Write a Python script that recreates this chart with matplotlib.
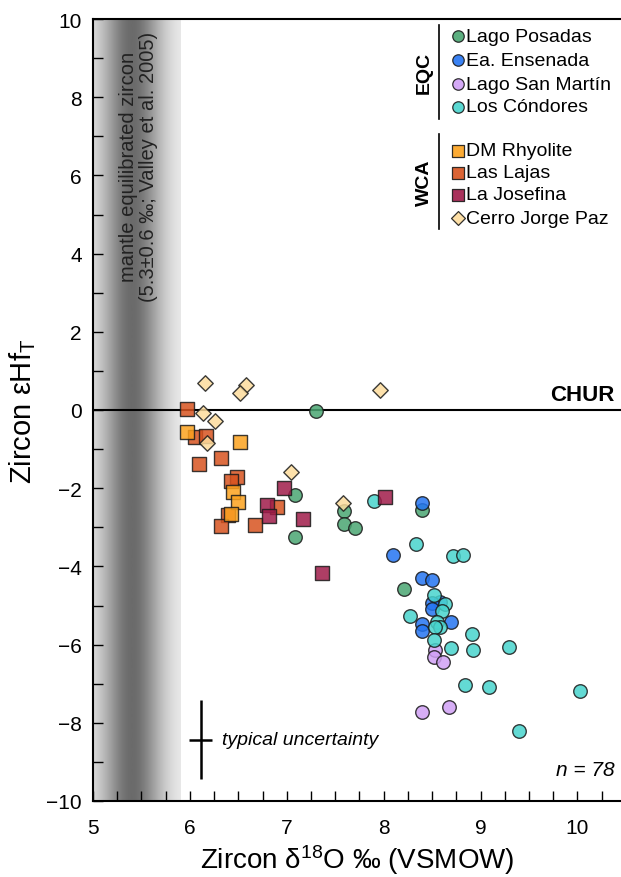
import numpy as np
import matplotlib
matplotlib.use("Agg")
import matplotlib.pyplot as plt
from matplotlib.ticker import MultipleLocator

plt.rcParams['font.family'] = ['Liberation Sans', 'DejaVu Sans']
plt.rcParams['mathtext.fontset'] = 'custom'
plt.rcParams['mathtext.rm'] = 'Liberation Sans'
plt.rcParams['mathtext.it'] = 'Liberation Sans:italic'

# --- zircon d18O (x) and eHf_T (y) by unit ---
posadas_x = [7.30, 7.09, 7.09, 7.59, 7.59, 7.70, 8.40, 8.21]
posadas_y = [-0.03, -2.18, -3.25, -2.58, -2.92, -3.01, -2.57, -4.57]

ensenada_x = [8.40, 8.10, 8.40, 8.50, 8.58, 8.50, 8.50, 8.70, 8.40, 8.40]
ensenada_y = [-2.39, -3.70, -4.29, -4.34, -4.91, -4.94, -5.08, -5.41, -5.47, -5.64]

sanmartin_x = [8.53, 8.52, 8.61, 8.40, 8.67]
sanmartin_y = [-6.14, -6.32, -6.45, -7.73, -7.59]

condores_x = [7.90, 8.33, 8.72, 8.82, 8.27, 8.52, 8.63, 8.60, 8.55, 8.58,
              8.53, 8.52, 8.70, 8.91, 8.92, 9.29, 8.84, 9.09, 9.40, 10.03]
condores_y = [-2.33, -3.43, -3.74, -3.71, -5.26, -4.73, -4.96, -5.13, -5.43, -5.56,
              -5.56, -5.88, -6.08, -5.73, -6.15, -6.07, -7.04, -7.09, -8.21, -7.18]

lajas_x = [5.97, 6.05, 6.17, 6.09, 6.32, 6.49, 6.42, 6.90, 6.39, 6.32, 6.67]
lajas_y = [0.02, -0.70, -0.66, -1.37, -1.22, -1.72, -1.82, -2.48, -2.69, -2.97, -2.93]

dm_x = [5.97, 6.52, 6.44, 6.50, 6.42]
dm_y = [-0.56, -0.81, -2.09, -2.35, -2.67]

josefina_x = [6.97, 6.80, 6.82, 7.17, 8.01, 7.36]
josefina_y = [-1.99, -2.42, -2.71, -2.80, -2.22, -4.16]

jorgepaz_x = [6.16, 6.58, 6.52, 7.96, 6.14, 6.26, 6.18, 7.04, 7.58]
jorgepaz_y = [0.68, 0.64, 0.44, 0.50, -0.07, -0.28, -0.85, -1.58, -2.39]

# typical analytical uncertainty (centre, half-widths)
unc_x, unc_y = [6.11], [-8.43]
unc_xerr, unc_yerr = [0.12], [1.02]

# mantle zircon reference band
mantle_lo, mantle_hi, mantle_peak = 5.0, 5.9, 5.4

colors = {
    'posadas': '#4aa672', 'ensenada': '#2475f2', 'sanmartin': '#d0a0f5',
    'condores': '#48d4cd', 'lajas': '#d8531f', 'dm': '#fca21e',
    'josefina': '#a01c4a', 'jorgepaz': '#fddc9c',
}

fig = plt.figure(figsize=(6.21, 8.78), dpi=100)
W, H = 621, 878
ax = fig.add_axes([93 / W, (H - 802) / H, 528 / W, 782 / H])

# grey gradient band
gx = np.linspace(mantle_lo, mantle_hi, 400)
shade = 0.95 - 0.53 * np.exp(-(gx - mantle_peak) ** 2 / (2 * 0.22 ** 2))
ax.imshow(shade[np.newaxis, :], cmap='gray', vmin=0, vmax=1, aspect='auto',
          extent=[mantle_lo, mantle_hi, -10, 10], zorder=0, interpolation='bilinear')
ax.text(5.47, 6.25, "mantle equilibrated zircon\n(5.3±0.6 ‰; Valley et al. 2005)",
        rotation=90, ha='center', va='center', fontsize=14.5, color='#222222',
        multialignment='center', linespacing=1.1, zorder=1)

# CHUR reference line
ax.axhline(0, color='black', lw=1.5, zorder=1)
ax.text(10.38, 0.12, "CHUR", ha='right', va='bottom', fontsize=16, fontweight='bold')

edge = dict(edgecolor='#1a1a1a', linewidths=1.0, alpha=0.85, zorder=3)
s_circ, s_sq, s_dia = 95, 90, 62
ax.scatter(posadas_x, posadas_y, s=s_circ, marker='o', c=colors['posadas'], **edge)
ax.scatter(ensenada_x, ensenada_y, s=s_circ, marker='o', c=colors['ensenada'], **edge)
ax.scatter(sanmartin_x, sanmartin_y, s=s_circ, marker='o', c=colors['sanmartin'], **edge)
ax.scatter(condores_x, condores_y, s=s_circ, marker='o', c=colors['condores'], **edge)
ax.scatter(lajas_x, lajas_y, s=s_sq, marker='s', c=colors['lajas'], **edge)
ax.scatter(dm_x, dm_y, s=s_sq, marker='s', c=colors['dm'], **edge)
ax.scatter(josefina_x, josefina_y, s=s_sq, marker='s', c=colors['josefina'], **edge)
ax.scatter(jorgepaz_x, jorgepaz_y, s=s_dia, marker='D', c=colors['jorgepaz'], **edge)

# uncertainty cross
ax.errorbar(unc_x, unc_y, xerr=unc_xerr, yerr=unc_yerr, fmt='none',
            ecolor='black', elinewidth=1.8, capsize=0, zorder=3)
ax.text(6.33, unc_y[0], "typical uncertainty", fontsize=14, style='italic',
        ha='left', va='center')
ax.text(10.38, -9.2, "n = 78", fontsize=15, style='italic', ha='right', va='center')

# legend drawn in axes fraction coordinates
def fx(px):
    return (px - 93) / 528

def fy(py):
    return (802 - py) / 782

tr = ax.transAxes
groups = [
    ("EQC", 26, 120, [("o", colors['posadas'], "Lago Posadas", 37),
                      ("o", colors['ensenada'], "Ea. Ensenada", 61),
                      ("o", colors['sanmartin'], "Lago San Martín", 85),
                      ("o", colors['condores'], "Los Cóndores", 108)]),
    ("WCA", 135, 230, [("s", colors['dm'], "DM Rhyolite", 152),
                       ("s", colors['lajas'], "Las Lajas", 174),
                       ("s", colors['josefina'], "La Josefina", 196),
                       ("D", colors['jorgepaz'], "Cerro Jorge Paz", 219)]),
]
for name, top, bot, items in groups:
    ax.plot([fx(439), fx(439)], [fy(top), fy(bot)], transform=tr, color='black',
            lw=1.2, clip_on=False)
    ax.text(fx(424), fy((top + bot) / 2), name, transform=tr, rotation=90,
            ha='center', va='center', fontsize=14, fontweight='bold')
    for mk, col, lab, py in items:
        ax.scatter([fx(458)], [fy(py)], transform=tr, marker=mk,
                   s=68 if mk != 'D' else 50, c=col, edgecolor='#1a1a1a',
                   linewidths=0.9, alpha=0.9, clip_on=False, zorder=5)
        ax.text(fx(466), fy(py), lab, transform=tr, ha='left', va='center', fontsize=14)

ax.set_xlim(5, 10.45)
ax.set_ylim(-10, 10)
ax.xaxis.set_major_locator(MultipleLocator(1))
ax.xaxis.set_minor_locator(MultipleLocator(0.25))
ax.yaxis.set_major_locator(MultipleLocator(2))
ax.yaxis.set_minor_locator(MultipleLocator(1))
ax.tick_params(which='both', direction='in', length=7, width=1, labelsize=15)
ax.tick_params(axis='x', which='major', pad=12)
ax.tick_params(axis='y', which='major', pad=8)
for side in ('left', 'bottom', 'top'):
    ax.spines[side].set_linewidth(1.5)
ax.spines['right'].set_visible(False)

ax.set_xlabel("Zircon δ$^{\\mathregular{18}}$O ‰ (VSMOW)", fontsize=20, labelpad=4)
ax.set_ylabel("Zircon εHf$_{\\mathregular{T}}$", fontsize=21, labelpad=6)

fig.savefig("out.png", dpi=100)
